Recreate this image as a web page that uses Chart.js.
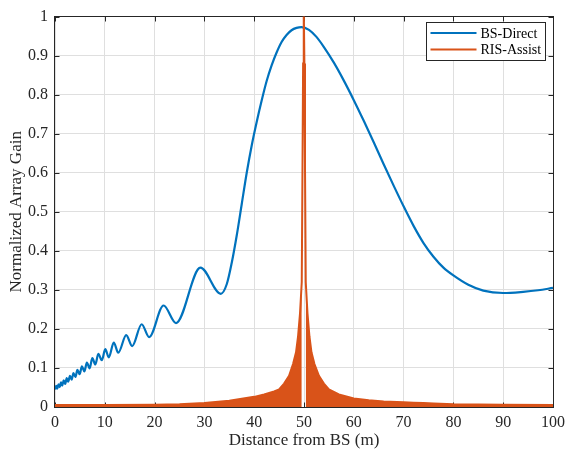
<!DOCTYPE html>
<html>
<head>
<meta charset="utf-8">
<script src="https://cdn.jsdelivr.net/npm/chart.js@4.4.0/dist/chart.umd.min.js"></script>
<style>
  html, body { margin: 0; padding: 0; background: #fff; }
</style>
</head>
<body>
<canvas id="gainChart" width="571" height="456"></canvas>
<script>
// BS-Direct (peaks / troughs of the ripple, then the main lobe)
const bsX = [0, 0.25, 0.45, 0.7, 0.95, 1.2, 1.45, 1.75, 2.05, 2.35, 2.65, 3.0, 3.35, 3.7, 4.1, 4.5,
  4.95, 5.4, 5.9, 6.4, 6.95, 7.5, 8.1, 8.7, 9.4, 10.1, 10.8, 11.8, 12.7, 14.3, 15.5, 17.4, 18.9,
  21.8, 24.3, 29.2, 33.3, 34.5, 35.5, 36.5, 37.5, 38.5, 39.5, 40.5, 41.5, 42.5, 43.5, 44.5, 45.5,
  46.5, 47.5, 48.5, 49.5, 51, 52.5, 54, 56, 58, 60, 62, 64, 66, 68, 70, 72, 74, 76, 78, 80, 83,
  86, 90, 94, 97, 100];
const bsY = [0.045, 0.054, 0.047, 0.058, 0.051, 0.063, 0.055, 0.068, 0.059, 0.074, 0.065, 0.080, 0.070, 0.087, 0.077, 0.095,
  0.084, 0.104, 0.091, 0.114, 0.099, 0.125, 0.109, 0.136, 0.120, 0.148, 0.127, 0.165, 0.139, 0.184, 0.156, 0.212, 0.179,
  0.260, 0.215, 0.357, 0.290, 0.315, 0.370, 0.440, 0.520, 0.600, 0.670, 0.730, 0.785, 0.835, 0.875, 0.908, 0.935,
  0.953, 0.965, 0.971, 0.973, 0.966, 0.948, 0.922, 0.882, 0.836, 0.786, 0.733, 0.678, 0.622, 0.567, 0.514, 0.464,
  0.420, 0.385, 0.357, 0.337, 0.313, 0.298, 0.292, 0.295, 0.299, 0.305];

// RIS-Assist: upper edge of the ripple band plus the narrow main lobe
const risX = [0, 10, 20, 25, 30, 35, 40, 42, 44, 45, 46, 47, 47.8, 48.4, 48.8, 49.2, 49.55,
  49.7, 49.82, 49.95, 50.08, 50.2, 50.35, 50.7, 51.1, 51.5, 52.1, 53, 54, 55, 57, 60, 63, 66,
  70, 72, 74, 76, 80, 90, 100];
const risY = [0.005, 0.005, 0.006, 0.007, 0.010, 0.016, 0.026, 0.032, 0.040, 0.045, 0.060, 0.080, 0.110, 0.140, 0.180, 0.240, 0.320,
  0.620, 0.880, 1.030, 0.880, 0.620, 0.320, 0.240, 0.180, 0.140, 0.110, 0.080, 0.060, 0.045, 0.032, 0.022, 0.017, 0.014,
  0.012, 0.011, 0.010, 0.009, 0.007, 0.006, 0.005];
const mainLobe = [49.55, 50.35];

const xTicks = [0, 10, 20, 30, 40, 50, 60, 70, 80, 90, 100];
const yTicks = [0, 0.1, 0.2, 0.3, 0.4, 0.5, 0.6, 0.7, 0.8, 0.9, 1];

const serif = '"Liberation Serif", "Times New Roman", serif';
const axisColor = '#262626';
const blue = '#0072BD';
const orange = '#D95319';

function pairs(xs, ys) {
  return xs.map((x, i) => ({ x: x, y: ys[i] }));
}

// band under the ripple, left open inside the main lobe
const bandData = risX.map((x, i) => ({
  x: x,
  y: (x > mainLobe[0] && x < mainLobe[1]) ? null : risY[i]
}));

// matlab-like box with inward ticks
const boxPlugin = {
  id: 'matlabBox',
  beforeDatasetsDraw(chart) {
    const { ctx, chartArea: a, scales } = chart;
    const l = Math.round(a.left) - 0.5, r = Math.round(a.right) + 0.5;
    const t = Math.round(a.top) - 0.5, b = Math.round(a.bottom) + 0.5;
    ctx.save();
    ctx.strokeStyle = axisColor;
    ctx.lineWidth = 1;
    ctx.strokeRect(l, t, r - l, b - t);
    ctx.beginPath();
    xTicks.forEach(v => {
      const px = Math.round(scales.x.getPixelForValue(v)) + 0.5;
      ctx.moveTo(px, b); ctx.lineTo(px, b - 5);
      ctx.moveTo(px, t); ctx.lineTo(px, t + 5);
    });
    yTicks.forEach(v => {
      const py = Math.round(scales.y.getPixelForValue(v)) + 0.5;
      ctx.moveTo(l, py); ctx.lineTo(l + 5, py);
      ctx.moveTo(r, py); ctx.lineTo(r - 5, py);
    });
    ctx.stroke();
    ctx.restore();
  }
};

const legendPlugin = {
  id: 'boxLegend',
  afterDraw(chart) {
    const ctx = chart.ctx;
    const items = chart.data.datasets.filter(d => d.label);
    const x0 = 426.5, y0 = 22.5, w = 119, h = 38;
    ctx.save();
    ctx.fillStyle = '#fff';
    ctx.fillRect(x0, y0, w, h);
    ctx.strokeStyle = axisColor;
    ctx.lineWidth = 1;
    ctx.strokeRect(x0, y0, w, h);
    ctx.font = '14px ' + serif;
    ctx.textBaseline = 'middle';
    items.forEach((d, i) => {
      const y = y0 + 10.5 + i * 16.5;
      ctx.strokeStyle = d.borderColor;
      ctx.lineWidth = 2;
      ctx.beginPath();
      ctx.moveTo(x0 + 4, y);
      ctx.lineTo(x0 + 50, y);
      ctx.stroke();
      ctx.fillStyle = '#000';
      ctx.fillText(d.label, x0 + 54, y + 1);
    });
    ctx.restore();
  }
};

new Chart(document.getElementById('gainChart'), {
  type: 'line',
  data: {
    datasets: [{
      label: 'BS-Direct',
      data: pairs(bsX, bsY),
      borderColor: blue,
      borderWidth: 2.2,
      pointRadius: 0,
      fill: false,
      cubicInterpolationMode: 'monotone',
      order: 3
    }, {
      label: 'RIS-Assist',
      data: pairs(risX, risY),
      borderColor: orange,
      borderWidth: 2,
      pointRadius: 0,
      fill: false,
      tension: 0,
      order: 1
    }, {
      label: '',
      data: bandData,
      borderColor: orange,
      backgroundColor: orange,
      borderWidth: 0,
      pointRadius: 0,
      fill: 'origin',
      spanGaps: false,
      tension: 0,
      order: 2
    }]
  },
  options: {
    responsive: false,
    animation: false,
    layout: { padding: { top: 10, right: 15, left: 0, bottom: 0 } },
    plugins: { legend: { display: false }, tooltip: { enabled: false } },
    scales: {
      x: {
        type: 'linear',
        min: 0,
        max: 100,
        afterFit(scale) { scale.height = 49; },
        afterBuildTicks(scale) { scale.ticks = xTicks.map(v => ({ value: v })); },
        ticks: { color: axisColor, font: { family: serif, size: 16 }, padding: 6, autoSkip: false, maxRotation: 0 },
        grid: { color: '#dfdfdf', drawTicks: false },
        border: { display: false },
        title: { display: true, text: 'Distance from BS (m)', color: axisColor,
          font: { family: serif, size: 17 }, padding: { top: 0, bottom: 5 } }
      },
      y: {
        type: 'linear',
        min: 0,
        max: 1,
        afterFit(scale) { scale.width = 55; },
        afterBuildTicks(scale) { scale.ticks = yTicks.map(v => ({ value: v })); },
        ticks: {
          color: axisColor, font: { family: serif, size: 16 }, padding: 7, autoSkip: false,
          callback: v => String(+v.toFixed(1))
        },
        grid: { color: '#dfdfdf', drawTicks: false },
        border: { display: false },
        title: { display: true, text: 'Normalized Array Gain', color: axisColor,
          font: { family: serif, size: 17 }, padding: { top: 6, bottom: 0 } }
      }
    }
  },
  plugins: [boxPlugin, legendPlugin]
});
</script>
</body>
</html>
